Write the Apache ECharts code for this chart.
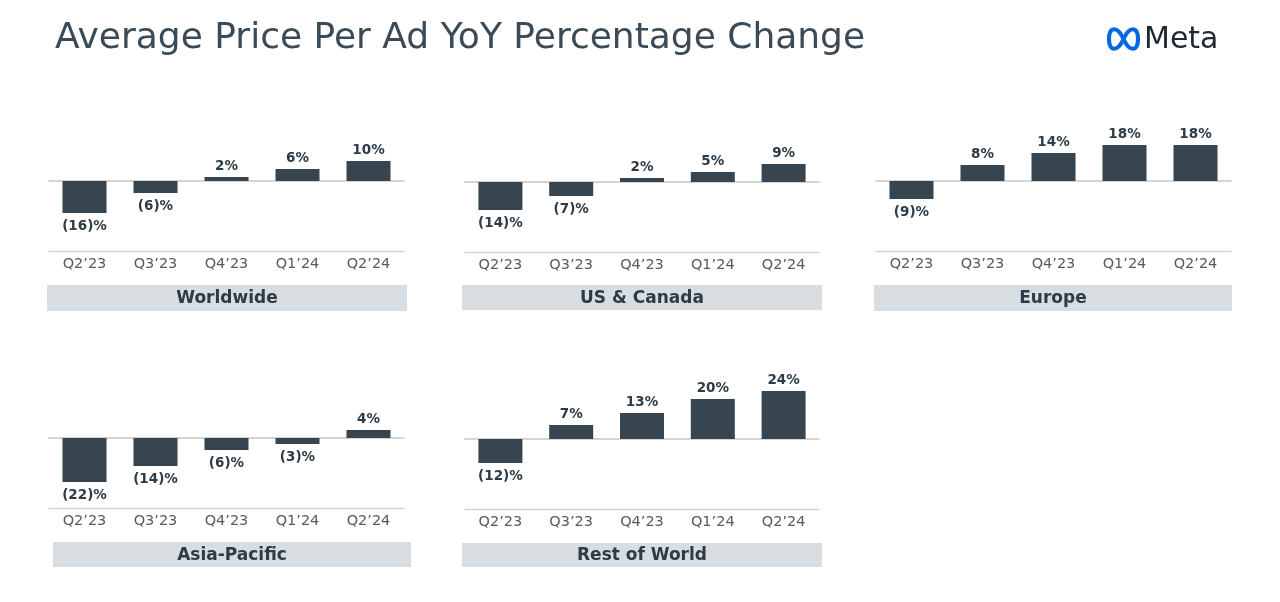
<!DOCTYPE html>
<html>
<head>
<meta charset="utf-8">
<script src="https://cdn.jsdelivr.net/npm/echarts@6/dist/echarts.min.js"></script>
<style>
html,body{margin:0;padding:0;background:#fff;}
#chart{width:1280px;height:602px;}
</style>
</head>
<body>
<div id="chart"></div>
<script>
// ---- data ----
const categories = ['Q2\u201923', 'Q3\u201923', 'Q4\u201923', 'Q1\u201924', 'Q2\u201924'];
const worldwide = [-16, -6, 2, 6, 10];
const usCanada = [-14, -7, 2, 5, 9];
const europe = [-9, 8, 14, 18, 18];
const asiaPacific = [-22, -14, -6, -3, 4];
const restOfWorld = [-12, 7, 13, 20, 24];
const regionNames = ['Worldwide', 'US & Canada', 'Europe', 'Asia-Pacific', 'Rest of World'];
const titleText = 'Average Price Per Ad YoY Percentage Change';
const logoText = 'Meta';

const seriesValues = [worldwide, usCanada, europe, asiaPacific, restOfWorld];

// ---- layout (pixels) ----
const panels = [
  { l: 49,  r: 404,  zero: 181, box: [47, 285, 360, 26] },
  { l: 465, r: 819,  zero: 182, box: [462, 285, 360, 25] },
  { l: 876, r: 1231, zero: 181, box: [874, 285, 358, 26] },
  { l: 49,  r: 404,  zero: 438, box: [53, 542, 358, 25] },
  { l: 465, r: 819,  zero: 439, box: [462, 543, 360, 24] }
];
const yMax = 25, yMin = -35;
const pxPerUnit = 2;

const FONT = 'DejaVu Sans';
const BAR = '#36454f';
const DARK = '#2c3b46';

const chart = echarts.init(document.getElementById('chart'));

const grid = [], xAxis = [], yAxis = [], series = [], graphic = [];

panels.forEach((p, i) => {
  grid.push({
    left: p.l,
    width: p.r - p.l,
    top: p.zero - yMax * pxPerUnit,
    height: (yMax - yMin) * pxPerUnit
  });
  // bottom axis with category labels
  xAxis.push({
    type: 'category', gridIndex: i, data: categories, position: 'bottom',
    axisLine: { show: true, onZero: false, lineStyle: { color: '#d2d2d2', width: 1.3 } },
    axisTick: { show: false },
    axisLabel: { color: '#555b61', fontSize: 14.5, fontFamily: FONT, margin: 6 }
  });
  // zero line
  xAxis.push({
    type: 'category', gridIndex: i, data: categories,
    axisLine: { show: true, onZero: true, lineStyle: { color: '#c6c6c6', width: 1.6 } },
    axisTick: { show: false },
    axisLabel: { show: false }
  });
  yAxis.push({
    type: 'value', gridIndex: i, min: yMin, max: yMax, show: false,
    splitLine: { show: false }
  });
  series.push({
    type: 'bar', name: regionNames[i],
    xAxisIndex: i * 2, yAxisIndex: i,
    barWidth: 44,
    data: seriesValues[i].map(v => ({
      value: v,
      label: v < 0 ? { position: 'bottom', distance: 6 } : { position: 'top', distance: 4 }
    })),
    itemStyle: { color: BAR },
    label: {
      show: true,
      color: DARK, fontSize: 13.5, fontWeight: 'bold', fontFamily: FONT,
      formatter: (d) => d.value < 0 ? '(' + Math.abs(d.value) + ')%' : d.value + '%'
    },
    silent: true
  });
  const [bx, by, bw, bh] = p.box;
  graphic.push({
    type: 'rect', x: bx, y: by, shape: { x: 0, y: 0, width: bw, height: bh },
    style: { fill: '#d8dde2' }, z: 1
  });
  graphic.push({
    type: 'text', x: bx + bw / 2, y: by + bh / 2 + 1, z: 2,
    style: { text: regionNames[i], fill: DARK, font: 'bold 17px "' + FONT + '"', align: 'center', verticalAlign: 'middle' }
  });
});

// Meta logo (infinity mark built from cubic curves)
const logoStroke = { stroke: '#0668e1', lineWidth: 4.2, fill: 'none', lineCap: 'round' };
const lx = 1123.5, ly = 39, hw = 14.5, hh = 13;
[
  [0, 0, 0.4 * hw, -hh, hw, -hh, hw, 0],
  [hw, 0, hw, hh, 0.4 * hw, hh, 0, 0],
  [0, 0, -0.4 * hw, -hh, -hw, -hh, -hw, 0],
  [-hw, 0, -hw, hh, -0.4 * hw, hh, 0, 0]
].forEach(c => {
  graphic.push({
    type: 'bezierCurve', x: lx, y: ly, z: 3,
    shape: { x1: c[0], y1: c[1], cpx1: c[2], cpy1: c[3], cpx2: c[4], cpy2: c[5], x2: c[6], y2: c[7] },
    style: logoStroke
  });
});
graphic.push({
  type: 'text', x: 1144, y: 40, z: 3,
  style: { text: logoText, fill: '#1c2b33', font: '500 30px "' + FONT + '"', verticalAlign: 'middle' }
});

chart.setOption({
  backgroundColor: '#ffffff',
  animation: false,
  title: {
    text: titleText, left: 50, top: 16,
    textStyle: { fontSize: 36, fontWeight: 'normal', color: '#3a4a56', fontFamily: FONT }
  },
  grid, xAxis, yAxis, series, graphic
});
</script>
</body>
</html>
